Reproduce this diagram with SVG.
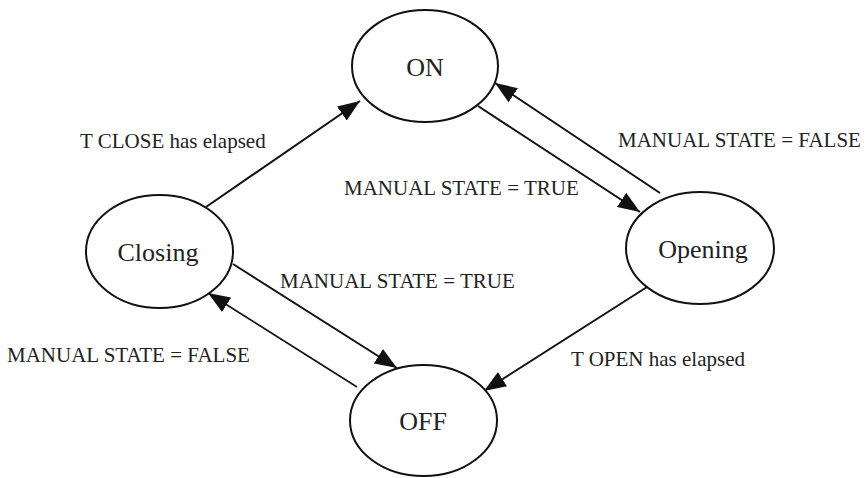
<svg xmlns="http://www.w3.org/2000/svg" width="867" height="478" viewBox="0 0 867 478">
<defs>
<style>
.node ellipse{fill:#fff;stroke:#111;stroke-width:2}
.node text{font-family:"Liberation Serif","Times New Roman",serif;font-size:26px;fill:#222;text-anchor:middle}
.lbl{font-family:"Liberation Serif","Times New Roman",serif;font-size:21px;fill:#222}
.edge{stroke:#111;stroke-width:2;fill:none;marker-end:url(#arr)}
</style>
<marker id="arr" markerUnits="userSpaceOnUse" markerWidth="23" markerHeight="17" refX="22" refY="8.5" orient="auto">
<path d="M0,0 L22,8.5 L0,17 z" fill="#111"/>
</marker>
</defs>
<rect width="867" height="478" fill="#fff"/>
<g id="connectors">
<line class="edge" x1="206" y1="207" x2="360" y2="101"/>
<line class="edge" x1="478" y1="106" x2="640" y2="212"/>
<line class="edge" x1="660" y1="193" x2="495" y2="83"/>
<line class="edge" x1="233" y1="264" x2="397" y2="368"/>
<line class="edge" x1="357" y1="387" x2="208" y2="293" style="stroke-width:1.6"/>
<line class="edge" x1="647" y1="287" x2="484" y2="391"/>
</g>
<g id="labels">
<text class="lbl" x="80" y="148">T CLOSE has elapsed</text>
<text class="lbl" x="344" y="195">MANUAL STATE = TRUE</text>
<text class="lbl" x="618" y="147">MANUAL STATE = FALSE</text>
<text class="lbl" x="280" y="288">MANUAL STATE = TRUE</text>
<text class="lbl" x="7" y="362">MANUAL STATE = FALSE</text>
<text class="lbl" x="571" y="366">T OPEN has elapsed</text>
</g>
<g id="node-on" class="node"><ellipse cx="425" cy="66" rx="73" ry="56"/><text x="425" y="76">ON</text></g>
<g id="node-closing" class="node"><ellipse cx="159.5" cy="251.5" rx="73.5" ry="56.5"/><text x="158" y="261">Closing</text></g>
<g id="node-opening" class="node"><ellipse cx="700" cy="248" rx="74" ry="56"/><text x="703" y="258">Opening</text></g>
<g id="node-off" class="node"><ellipse cx="423.5" cy="420.5" rx="73.5" ry="55.5"/><text x="423" y="430">OFF</text></g>
</svg>
